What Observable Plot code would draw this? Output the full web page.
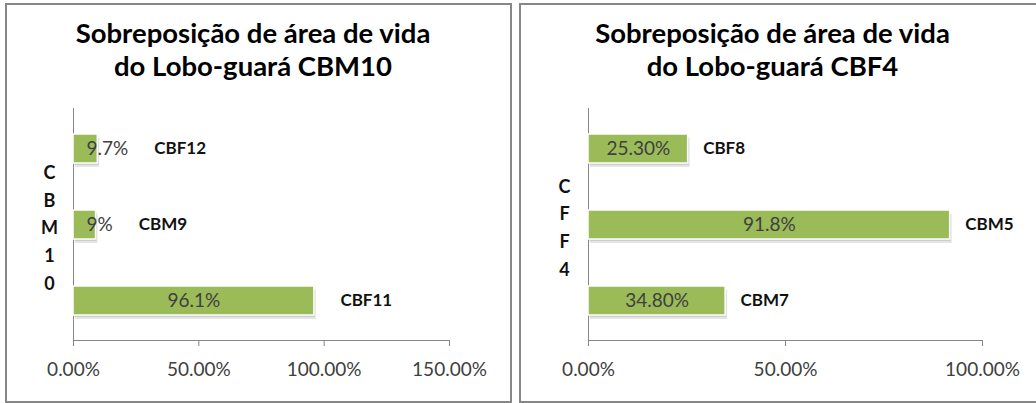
<!DOCTYPE html>
<html>
<head>
<meta charset="utf-8">
<script src="https://cdn.jsdelivr.net/npm/d3@7"></script>
<script src="https://cdn.jsdelivr.net/npm/@observablehq/plot@0.6"></script>
<style>
  html, body { margin: 0; padding: 0; background: #fff; }
  #page { position: relative; width: 1036px; height: 403px; overflow: hidden; font-family: Lato, "Noto Sans", sans-serif; }
  .panel { position: absolute; top: 3px; height: 400px; box-sizing: border-box; border: 2px solid #878787; background: #fff; }
  .title { position: absolute; left: 0; top: 11px; width: 100%; box-sizing: border-box; text-align: center;
           font-family: Lato, sans-serif; font-weight: bold; font-size: 27.5px; line-height: 33px; color: #000; }
  .chart { position: absolute; left: 0; top: 85px; }
</style>
</head>
<body>
<div id="page">
  <div class="panel" id="p1" style="left:5px; width:507px;"></div>
  <div class="panel" id="p2" style="left:519px; width:519px;"></div>
</div>
<script>
// ---- data ----
const cbm10Names  = ["CBF12", "CBM9", "CBF11"];
const cbm10Values = [9.7, 9, 96.1];
const cbm10Labels = ["9.7%", "9%", "96.1%"];
const cbm10Ticks  = [0, 50, 100, 150];

const cbf4Names  = ["CBF8", "CBM5", "CBM7"];
const cbf4Values = [25.3, 91.8, 34.8];
const cbf4Labels = ["25.30%", "91.8%", "34.80%"];
const cbf4Ticks  = [0, 50, 100];

const titles = ["Sobreposição de área de vida\ndo Lobo-guará CBM10",
                "Sobreposição de área de vida\ndo Lobo-guará CBF4"];
const axisLabels = ["CBM10", "CFF4"];

// ---- helpers ----
const ctx = document.createElement("canvas").getContext("2d");
function textWidth(s, font) { ctx.font = font; return ctx.measureText(s).width; }

const VALUE_FONT_SIZE = 19;
const NAME_FONT_SIZE = 17;

function panel(el, cfg) {
  const t = document.createElement("div");
  t.className = "title";
  t.style.paddingRight = cfg.titleShift + "px";
  t.innerHTML = cfg.title.split("\n").join("<br>");
  el.appendChild(t);

  const innerW = cfg.width - cfg.ml - cfg.mr;
  const kx = innerW / cfg.xmax;
  const valueFont = `${VALUE_FONT_SIZE}px Lato`;
  const data = cfg.names.map((name, i) => {
    const value = cfg.values[i];
    const w = textWidth(cfg.labels[i], valueFont);
    const fits = w + 6 <= value * kx;
    const end = fits ? value : (cfg.smallInset + w) / kx;
    return {name, value, label: cfg.labels[i], fits, end};
  });

  const chart = Plot.plot({
    width: cfg.width,
    height: 305,
    marginLeft: cfg.ml,
    marginRight: cfg.mr,
    marginTop: 18,
    marginBottom: 55,
    style: {fontFamily: "Lato, sans-serif", background: "transparent", overflow: "visible"},
    x: {domain: [0, cfg.xmax], ticks: cfg.ticks, tickFormat: d => d.toFixed(2) + "%"},
    y: {domain: cfg.names, paddingInner: 0.625, paddingOuter: 0.33, axis: null},
    marks: [
      Plot.axisX({ticks: cfg.ticks, tickFormat: d => d.toFixed(2) + "%", tickSize: 6, tickPadding: 16,
                  stroke: "#878787", fill: "#404040", fontSize: VALUE_FONT_SIZE, label: null}),
      Plot.frame({anchor: "bottom", stroke: "#878787"}),
      Plot.ruleX([0], {stroke: "#878787"}),
      // soft shadow
      Plot.barX(data, {x: "value", y: "name", fill: "#000", fillOpacity: 0.10, dx: 2, dy: 4}),
      Plot.barX(data, {x: "value", y: "name", fill: "#000", fillOpacity: 0.10, dx: 1, dy: 2}),
      Plot.barX(data, {x: "value", y: "name", fill: "#9BBB59", stroke: "#ffffff", strokeWidth: 1.5}),
      // value labels
      Plot.text(data.filter(d => d.fits), {x: d => d.value / 2, y: "name", text: "label",
                fill: "#404040", fontSize: VALUE_FONT_SIZE}),
      Plot.text(data.filter(d => !d.fits), {x: 0, y: "name", text: "label", textAnchor: "start",
                dx: cfg.smallInset, fill: "#404040", fontSize: VALUE_FONT_SIZE}),
      // category labels
      Plot.text(data, {x: "end", y: "name", text: "name", textAnchor: "start", dx: cfg.gap,
                fill: "#111", fontWeight: "bold", fontSize: NAME_FONT_SIZE}),
      // stacked axis label
      Plot.text([cfg.axisLabel], {frameAnchor: "left", textAnchor: "middle", text: d => d.split("").join("\n"),
                dx: -24, dy: 1, lineHeight: 1.55, fontWeight: "bold", fontSize: 18, fill: "#111"})
    ]
  });
  chart.classList.add("chart");
  el.appendChild(chart);
}

panel(document.getElementById("p1"), {
  title: titles[0], titleShift: 11, names: cbm10Names, values: cbm10Values, labels: cbm10Labels,
  ticks: cbm10Ticks, xmax: 150, width: 502, ml: 66, mr: 60, gap: 26, smallInset: 13, axisLabel: axisLabels[0]
});
panel(document.getElementById("p2"), {
  title: titles[1], titleShift: 12, names: cbf4Names, values: cbf4Values, labels: cbf4Labels,
  ticks: cbf4Ticks, xmax: 100, width: 514, ml: 67, mr: 53, gap: 15, smallInset: 13, axisLabel: axisLabels[1]
});
</script>
</body>
</html>
